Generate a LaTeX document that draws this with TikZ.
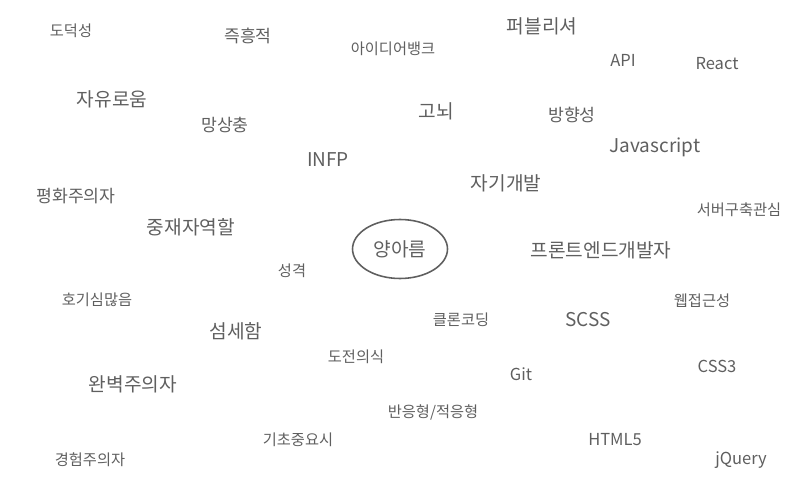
\documentclass[tikz,border=0pt]{standalone}
\usepackage{fontspec}
\usetikzlibrary{shapes.geometric}
\setmainfont{Noto Sans CJK KR}
\definecolor{wordgray}{RGB}{95,95,95}

\begin{document}
\begin{tikzpicture}[
  x=0.02cm, y=-0.02cm,
  word/.style={text=wordgray, inner sep=0pt, font=\fontsize{8.7}{10}\selectfont},
  midword/.style={word, font=\fontsize{9.8}{11}\selectfont},
  bigword/.style={word, font=\fontsize{10.9}{12}\selectfont},
  latin/.style={word, font=\fontsize{9.4}{11}\selectfont},
  biglatin/.style={word, font=\fontsize{10.8}{13}\selectfont},
  centerword/.style={draw=wordgray, line width=0.9pt, ellipse, minimum width=1.9cm,
               minimum height=1.18cm, text=wordgray, font=\fontsize{10.9}{12}\selectfont},
]
  \useasboundingbox (0,0) rectangle (800,500);

  % Center
  \node[centerword] (me) at (400, 249) {양아름};

  % Personality
  \node[word] (dodeok) at (71, 31) {도덕성};
  \node[midword] (jeukheung) at (248, 36) {즉흥적};
  \node[word] (idea) at (393, 49) {아이디어뱅크};
  \node[bigword] (jayu) at (112, 99) {자유로움};
  \node[midword] (mangsang) at (225, 125) {망상충};
  \node[bigword] (gonoe) at (436, 111) {고뇌};
  \node[midword] (banghyang) at (572, 115) {방향성};
  \node[biglatin] (infp) at (328, 160) {INFP};
  \node[bigword] (jagi) at (506, 183) {자기개발};
  \node[midword] (pyeonghwa) at (76, 196) {평화주의자};
  \node[bigword] (jungjae) at (191, 227) {중재자역할};
  \node[word] (seonggyeok) at (292, 271) {성격};
  \node[word] (hogisim) at (97, 300) {호기심많음};
  \node[bigword] (seomse) at (236, 331) {섬세함};
  \node[word] (dojeon) at (356, 357) {도전의식};
  \node[bigword] (wanbyeok) at (133, 384) {완벽주의자};
  \node[word] (gicho) at (298, 440) {기초중요시};
  \node[word] (gyeongheom) at (90, 460) {경험주의자};

  % Frontend
  \node[bigword] (publisher) at (542, 26) {퍼블리셔};
  \node[latin] (api) at (623, 60) {API};
  \node[latin] (react) at (717, 64) {React};
  \node[biglatin] (js) at (655, 147) {Javascript};
  \node[word] (server) at (739, 210) {서버구축관심};
  \node[bigword] (frontend) at (601, 250) {프론트엔드개발자};
  \node[word] (a11y) at (702, 301) {웹접근성};
  \node[word] (clone) at (461, 320) {클론코딩};
  \node[biglatin] (scss) at (588, 320) {SCSS};
  \node[latin] (git) at (521, 374) {Git};
  \node[latin] (css) at (717, 366) {CSS3};
  \node[word] (responsive) at (433, 412) {반응형/적응형};
  \node[latin] (html) at (615, 440) {HTML5};
  \node[latin] (jquery) at (741, 460) {jQuery};
\end{tikzpicture}
\end{document}
